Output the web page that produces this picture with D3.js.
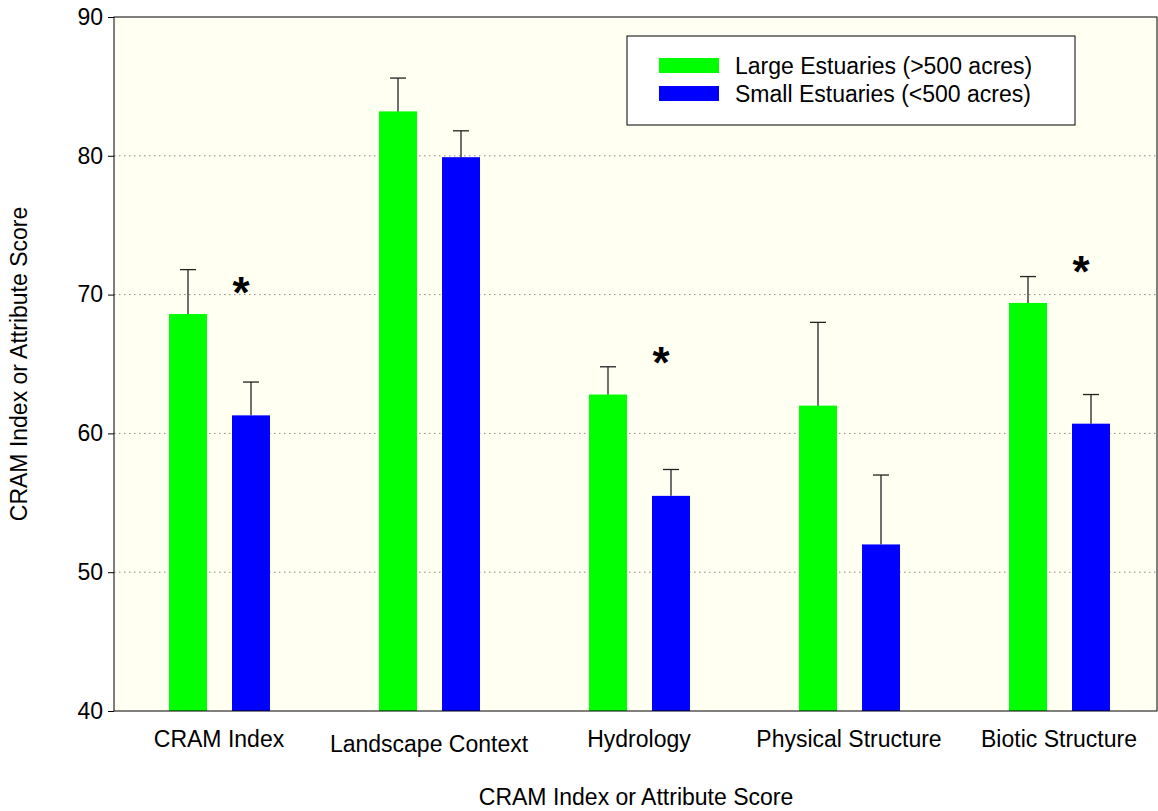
<!DOCTYPE html>
<html><head><meta charset="utf-8">
<script src="https://cdn.jsdelivr.net/npm/d3@7"></script>
<style>body{margin:0;background:#fff}text{font-family:Arial,"Liberation Sans",sans-serif}</style>
</head><body><svg id="c" width="1158" height="811"></svg>
<script>
const categories=["CRAM Index","Landscape Context","Hydrology","Physical Structure","Biotic Structure"];
const largeVals=[68.6,83.2,62.8,62.0,69.4];
const largeErr=[71.8,85.6,64.8,68.0,71.3];
const smallVals=[61.3,79.9,55.5,52.0,60.7];
const smallErr=[63.7,81.8,57.4,57.0,62.8];
const sigStars=[{i:0,v:70.6},{i:2,v:65.6},{i:4,v:72.1}];
const yTicks=[40,50,60,70,80,90];
const seriesNames=["Large Estuaries (>500 acres)","Small Estuaries (<500 acres)"];
const colors=["#00ff00","#0000ff"];

const svg=d3.select("#c");
const L=114,R=1157,T=17,B=711;
const y=d3.scaleLinear().domain([40,90]).range([B,T]);
const x=d3.scaleBand().domain(categories).range([L,L+1050]);
const bw=38;
svg.append("rect").attr("x",L).attr("y",T).attr("width",R-L).attr("height",B-T).attr("fill","#fffff2");
svg.append("g").selectAll("line").data(yTicks.slice(1,-1)).join("line")
 .attr("x1",L).attr("x2",R).attr("y1",d=>y(d)).attr("y2",d=>y(d))
 .attr("stroke","#888").attr("stroke-dasharray","1.5,3.5");
const gx=(c,s)=>x(c)+(s===0?55:118);
[ [largeVals,largeErr],[smallVals,smallErr] ].forEach(([v,e],s)=>{
  const g=svg.append("g");
  g.selectAll("rect").data(categories).join("rect")
   .attr("x",(c)=>gx(c,s)).attr("width",bw)
   .attr("y",(c,i)=>y(v[i])).attr("height",(c,i)=>B-y(v[i])).attr("fill",colors[s]);
  g.selectAll("line.v").data(categories).join("line").attr("class","v")
   .attr("x1",c=>gx(c,s)+bw/2).attr("x2",c=>gx(c,s)+bw/2)
   .attr("y1",(c,i)=>y(v[i])).attr("y2",(c,i)=>y(e[i])).attr("stroke","#222").attr("stroke-width",1.3);
  g.selectAll("line.h").data(categories).join("line").attr("class","h")
   .attr("x1",c=>gx(c,s)+bw/2-8).attr("x2",c=>gx(c,s)+bw/2+8)
   .attr("y1",(c,i)=>y(e[i])).attr("y2",(c,i)=>y(e[i])).attr("stroke","#222").attr("stroke-width",1.3);
});
svg.append("g").selectAll("text").data(sigStars).join("text")
 .attr("x",d=>gx(categories[d.i],1)+bw/2-10).attr("y",d=>y(d.v)+22)
 .attr("text-anchor","middle").attr("font-size",44).attr("font-weight","bold").text("*");
svg.append("rect").attr("x",L).attr("y",T).attr("width",R-L).attr("height",B-T).attr("fill","none").attr("stroke","#000");
const ya=svg.append("g").attr("transform",`translate(${L},0)`).call(d3.axisLeft(y).tickValues(yTicks).tickSize(6));
ya.select(".domain").remove();
ya.selectAll("text").attr("font-size",23).attr("fill","#000").attr("dx",-2).style("font-family","Arial,'Liberation Sans',sans-serif");
svg.append("g").selectAll("text").data(categories).join("text")
 .attr("x",c=>x(c)+105).attr("y",(c,i)=>i===1?752:747).attr("text-anchor","middle")
 .attr("font-size",23).text(c=>c);
svg.append("text").attr("x",636).attr("y",805).attr("text-anchor","middle").attr("font-size",23).text("CRAM Index or Attribute Score");
svg.append("text").attr("transform","translate(27,364) rotate(-90)").attr("text-anchor","middle").attr("font-size",23).text("CRAM Index or Attribute Score");
const lg=svg.append("g");
lg.append("rect").attr("x",627).attr("y",36).attr("width",448).attr("height",89).attr("fill","#fff").attr("stroke","#000");
seriesNames.forEach((n,i)=>{
  lg.append("rect").attr("x",659).attr("y",58+i*28).attr("width",60).attr("height",15).attr("fill",colors[i]);
  lg.append("text").attr("x",735).attr("y",74+i*28).attr("font-size",23).text(n);
});
</script></body></html>
